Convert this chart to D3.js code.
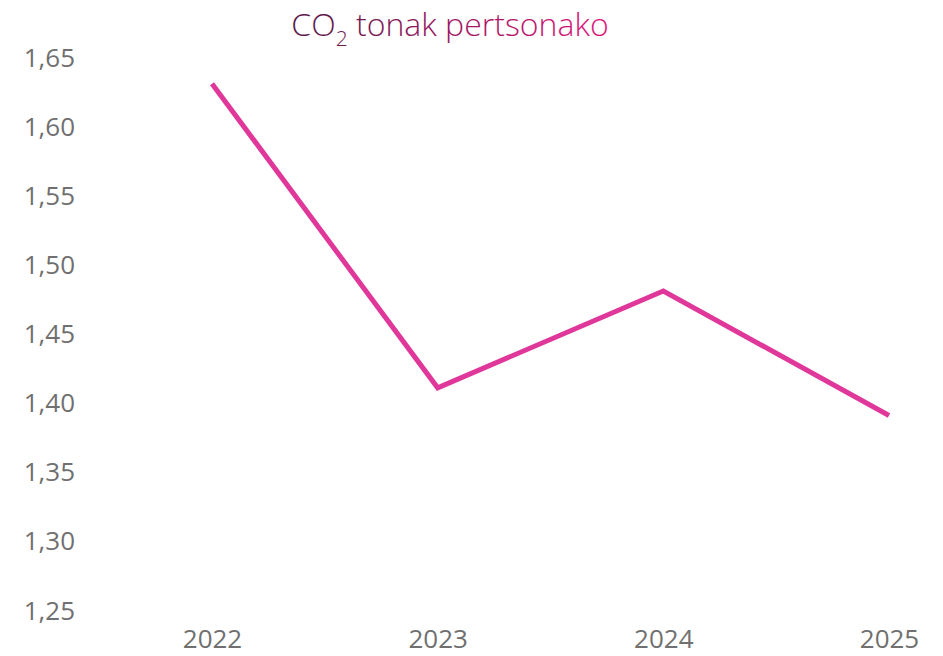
<!DOCTYPE html>
<html>
<head>
<meta charset="utf-8">
<script src="https://cdn.jsdelivr.net/npm/d3@7"></script>
<style>
  body { margin: 0; background: #fff; }
  svg { display: block; }
  .axis text { font-family: "Open Sans", sans-serif; font-size: 26px; fill: #707070; }
  .axis .domain, .axis line { display: none; }
</style>
</head>
<body>
<svg id="chart"></svg>
<script>
const years = ["2022", "2023", "2024", "2025"];
const co2PerPerson = [1.63, 1.41, 1.48, 1.39];
const yTicks = [1.25, 1.30, 1.35, 1.40, 1.45, 1.50, 1.55, 1.60, 1.65];

const width = 943, height = 656;

const svg = d3.select("#chart")
    .attr("width", width)
    .attr("height", height);

const x = d3.scalePoint()
    .domain(years)
    .range([212, 889]);

const y = d3.scaleLinear()
    .domain([1.25, 1.65])
    .range([609, 56]);

// gradient for the title
const grad = svg.append("defs").append("linearGradient")
    .attr("id", "titleGrad")
    .attr("x1", "0%").attr("x2", "100%")
    .attr("y1", "0%").attr("y2", "0%");
grad.append("stop").attr("offset", "0%").attr("stop-color", "#561848");
grad.append("stop").attr("offset", "100%").attr("stop-color", "#e0147c");

const title = svg.append("text")
    .attr("x", 450)
    .attr("y", 36)
    .attr("text-anchor", "middle")
    .style("font-family", "'Open Sans', sans-serif")
    .style("font-size", "32px")
    .style("font-weight", 300)
    .attr("fill", "url(#titleGrad)");
title.append("tspan").text("CO");
title.append("tspan").attr("dy", 10).style("font-size", "21px").text("2");
title.append("tspan").attr("dy", -10).text(" tonak pertsonako");

// y axis
const yAxis = svg.append("g")
    .attr("class", "axis")
    .attr("transform", "translate(75,0)")
    .call(d3.axisLeft(y).tickValues(yTicks).tickSize(0).tickPadding(0)
        .tickFormat(d => d3.format(".2f")(d).replace(".", ",")));
yAxis.selectAll("text").attr("dy", null).attr("dominant-baseline", "central");

// x axis
const xAxis = svg.append("g")
    .attr("class", "axis")
    .attr("transform", "translate(0,624)")
    .call(d3.axisBottom(x).tickSize(0).tickPadding(0));
xAxis.selectAll("text").attr("dy", null).attr("y", 24);

const line = d3.line()
    .x((d, i) => x(years[i]))
    .y(d => y(d));

svg.append("path")
    .datum(co2PerPerson)
    .attr("d", line)
    .style("fill", "none")
    .style("stroke", "#e0389a")
    .style("stroke-width", 5)
    .style("stroke-linejoin", "miter");
</script>
</body>
</html>
